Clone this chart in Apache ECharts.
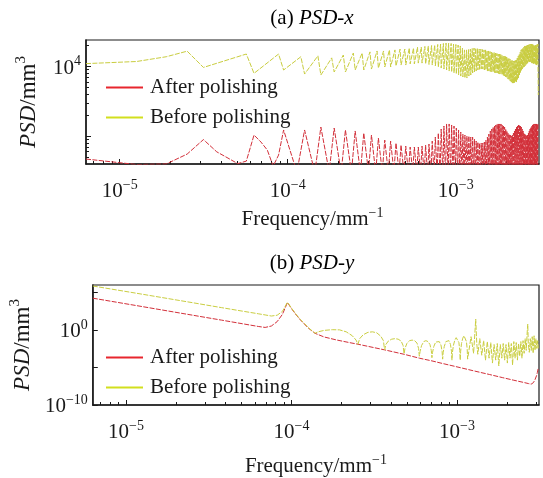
<!DOCTYPE html>
<html>
<head>
<meta charset="utf-8">
<script src="https://cdn.jsdelivr.net/npm/echarts@6/dist/echarts.min.js"></script>
<style>
  html, body { margin: 0; padding: 0; background: #fff; }
  #chart { width: 543px; height: 478px; }
</style>
</head>
<body>
<div id="chart"></div>
<script>
// Frequency resolution of the PSD estimate (mm^-1 per bin)
const df = 6.3e-6;

// Axis ranges and tick positions
const freqRange = [6.3e-6, 3.13e-3];
const freqMajor = [1e-5, 1e-4, 1e-3];
const freqMinor = [7e-6, 8e-6, 9e-6, 2e-5, 3e-5, 4e-5, 5e-5, 6e-5, 7e-5, 8e-5, 9e-5,
                   2e-4, 3e-4, 4e-4, 5e-4, 6e-4, 7e-4, 8e-4, 9e-4, 2e-3, 3e-3];
const psdXRange = [400, 24000];
const psdXMajor = [1e3, 1e4];
const psdXMinor = [500, 600, 700, 800, 900, 2000, 3000, 4000, 5000, 6000, 7000, 8000, 9000, 20000];
const psdXLabels = [1e4];
const psdYRange = [1e-10, 1e6];
const psdYMajor = [1e-10, 1e-5, 1, 1e5];
const psdYLabels = [1e-10, 1];

// (a) PSD-x : [frequency bin, PSD mm^3]
const psdXAfter = [
  [1,471],[2,393],[3,400],[4,555],[5,896],[6,598],[7,486],[8,405],[9,440],[10,1040],
  [11,826],[12,634],[13,373],[14,537],[15,1230],
  [18,306],[20,1230],[23,300],[25,1355],[28,310],[30,1310],[33,300],[35,1230],[38,305],[40,1190],
  [43,300],[45,1110],[48,310],[50,1040],[53,300],[55,942],[58,305],[60,881],[63,300],[65,853],
  [68,310],[70,798],[73,300],[75,748],[78,305],[80,723],[83,300],[85,700],[88,310],[90,700],
  [93,300],[95,700],[98,305],[100,723],
  [103,290],[105,748],[108,280],[110,773],[113,285],[115,853],[118,280],[120,973],[123,285],[125,1110],
  [128,280],[130,1270],[133,285],[135,1400],[138,280],[140,1500],[143,285],[145,1500],[148,280],[150,1450],
  [153,285],[155,1400],[158,280],[160,1310],[163,285],[165,1230],[168,280],[170,1150],[173,285],[175,1075],
  [178,280],[180,1040],[183,285],[185,1007],[188,280],[190,1007],[193,285],[195,973],[198,280],[200,973],
  [203,285],[205,912],[208,280],[210,853],[213,285],[215,826],[218,280],[220,798],[223,285],[225,798],
  [228,280],[230,798],[233,285],[235,826],[238,280],[240,881],[243,285],[245,973],[248,280],[250,1075],
  [253,285],[255,1190],[258,280],[260,1270],[263,285],[265,1355],[268,280],[270,1400],[273,285],[275,1450],
  [278,280],[280,1500],[283,285],[285,1500],[288,280],[290,1500],[293,285],[295,1500],[298,280],[300,1450],
  [303,285],[305,1400],[308,280],[310,1355],[313,285],[315,1270],[318,280],[320,1190],[323,285],[325,1110],
  [328,280],[330,1075],[333,285],[335,1040],[338,280],[340,1007],[343,285],[345,1040],[348,280],[350,1110],
  [353,285],[355,1190],[358,280],[360,1270],[363,285],[365,1355],[368,280],[370,1400],[373,285],[375,1450],
  [378,280],[380,1450],[383,285],[385,1400],[388,280],[390,1355],[393,285],[395,1270],[398,280],[400,1190],
  [403,285],[405,1110],[408,280],[410,1075],[413,285],[415,1040],[418,280],[420,1007],[423,285],[425,1040],
  [428,280],[430,1110],[433,285],[435,1190],[438,280],[440,1270],[443,285],[445,1355],[448,280],[450,1400],
  [453,285],[455,1450],[458,280],[460,1500],[463,285],[465,1500],[468,280],[470,1500],[473,285],[475,1500],
  [478,280],[480,1500],[483,285],[485,1500],[488,280],[490,1500],[492,1450]
];
const psdXBefore = [
  [1,11000],[2,11800],[3,13800],[4,16600],[5,9700],
  [9,15100],[10,7980],[14,15100],[15,8910],[19,13800],[20,7800],[24,14200],[25,7550],[29,13300],[30,8340],
  [34,14600],[35,8340],[39,15600],[40,8910],[44,15600],[45,8910],[49,16200],[50,9200],[54,16700],[55,9510],
  [59,16700],[60,9840],[64,17300],[65,9840],[69,17300],[70,10200],[74,17800],[75,10500],[79,17800],[80,10500],
  [84,18400],[85,10900],[89,18400],[90,10900],[94,19000],[95,11200],[99,19000],[100,11200],
  [104,19400],[105,10900],[109,19700],[110,10700],[114,20000],[115,10500],[119,20300],[120,10200],
  [124,20700],[125,9840],[129,21000],[130,9510],[134,21400],[135,9200],[139,21700],[140,8910],
  [144,21700],[145,8610],[149,21400],[150,8340],[154,21000],[155,8070],[159,20700],[160,7800],
  [164,20300],[165,7550],[169,19700],[170,7300],[174,18400],[175,7070],[179,17300],[180,6840],
  [184,17300],[185,6840],[189,17500],[190,7300],[194,17800],[195,7550],[199,18100],[200,8070],
  [204,18400],[205,8340],[209,18400],[210,8610],[214,18100],[215,8910],[219,17800],[220,8910],
  [224,17800],[225,9200],[229,17500],[230,9200],[234,17300],[235,8910],[239,17300],[240,8910],
  [244,17000],[245,8610],[249,16700],[250,8610],[254,16400],[255,8470],[259,16100],[260,8340],
  [264,16100],[265,8340],[269,15900],[270,8200],[274,15600],[275,8070],[279,15400],[280,8070],
  [284,15100],[285,7930],[289,15100],[290,7800],[294,14900],[295,7800],[299,14600],[300,7550],
  [304,14400],[305,7430],[309,14100],[310,7300],[314,13900],[315,7070],[319,13700],[320,6840],
  [324,13200],[325,6610],[329,13000],[330,6400],[334,12800],[335,6190],[339,12400],[340,5990],
  [344,12200],[345,5790],[349,12000],[350,5790],[354,12000],[355,5790],[359,12200],[360,5990],
  [364,12400],[365,5990],[369,13200],[370,6400],[374,14100],[375,6840],[379,15100],[380,7550],
  [384,16100],[385,8070],[389,17300],[390,8610],[394,17800],[395,9200],[399,18400],[400,9510],
  [404,19000],[405,9840],[409,19700],[410,10200],[414,19700],[415,10500],[419,20000],[420,10900],
  [424,20300],[425,11200],[429,20300],[430,11600],[434,20700],[435,11600],[439,20700],[440,11600],
  [444,21000],[445,11600],[449,21000],[450,11200],[454,20700],[455,11200],[459,20700],[460,10900],
  [464,20300],[465,10900],[469,20300],[470,10900],[474,20300],[475,10500],[479,20300],[480,10500],
  [484,20700],[485,10900],[489,21000],[490,11200],[492,3900]
];

// (b) PSD-y : [frequency bin, PSD mm^3]
const psdYAfter = [
  [1,1.75e4],[2,1.3e3],[4,95],[6,20.7],[8,6.9],[10,2.96],[11,2.2],[12,3.4],[13,13],[14,125],
  [15,4.6e3],[16,560],[17,93],[18,21],[19,6.3],[20,1.9],[22,0.364],[25,0.117],[30,0.0447],[35,0.0224],
  [40,0.0127],[58,2.24e-3],[76,5.8e-4],[94,1.75e-4],[112,7.6e-5],[130,3.4e-5],[148,1.75e-5],[166,9.6e-6],
  [184,5.6e-6],[200,3.6e-6],[250,1.15e-6],[300,4.4e-7],[350,2.0e-7],[400,1.04e-7],[430,7.1e-8],[445,5.9e-8],
  [460,9.8e-8],[470,2.4e-7],[480,8.0e-7],[486,2.3e-6],[492,8.8e-6]
];
const psdYBefore = [
  [1,7.4e5],[2,5.8e4],[4,4.4e3],[6,960],[8,330],[10,146],[11,102],[12,73],[13,93],[14,308],
  [15,5.0e3],[16,650],[17,108],[18,24],[19,7.3],[20,2.2],[22,0.364],
  [23,0.57],[25,0.89],[28,1.1],[31,1.04],[34,0.57],[37,0.17],[39,0.0447],[40,0.0127],
  [41,0.070],[43,0.23],[46,0.49],[49,0.57],[52,0.42],[55,0.148],[57,0.038],[58,2.24e-3],
  [59,0.0116],[61,0.033],[64,0.060],[67,0.070],[70,0.060],[73,0.033],[75,0.0086],[76,6.7e-4],
  [77,0.0035],[79,0.0157],[82,0.038],[85,0.0447],[88,0.038],[91,0.018],[93,0.0035],[94,3.2e-4],
  [95,1.43e-3],[97,0.0086],[100,0.0285],[103,0.038],[106,0.0285],[109,0.0116],[111,0.0019],[112,2.04e-4],
  [113,1.06e-3],[115,0.0064],[118,0.0245],[121,0.038],[124,0.0285],[127,0.01],[129,1.43e-3],[130,1.3e-4],
  [131,1.06e-3],[133,0.0064],[136,0.0285],[139,0.052],[142,0.038],[145,0.0116],[147,1.43e-3],[148,9.6e-5],
  [149,1.06e-3],[151,0.0086],[154,0.0447],[157,0.095],[160,0.070],[163,0.0211],[165,0.0019],[166,9.6e-5],
  [167,1.43e-3],[169,0.0157],[172,0.081],[175,0.17],[178,0.11],[181,0.0285],[183,0.0026],[184,1.3e-4],
  [193,0.128],[200,7.8e-4],[206,28],[209,0.0157],[212,5.8e-4],[218,0.070],[224,4.3e-4],[230,0.038],
  [236,9.6e-5],[242,0.0285],[248,1.75e-4],[254,0.0211],[260,3.9e-5],[266,0.0116],[272,9.6e-5],[278,0.0157],
  [284,1.6e-5],[290,0.0116],[296,1.75e-4],[302,0.0157],[308,9.6e-5],[314,0.0116],[320,3.9e-5],[326,0.0211],
  [332,1.75e-4],[338,0.0157],[344,2.15e-5],[350,0.0285],[356,1.75e-4],[362,0.0211],[368,9.6e-5],[374,0.0157],
  [380,3.2e-4],[386,0.0285],[392,1.75e-4],[398,0.038],[404,7.8e-4],[410,0.070],[416,0.0019],[422,0.77],
  [425,6.3],[428,0.0157],[434,1.06e-3],[440,0.070],[446,0.0019],[452,0.128],[458,7.8e-4],[464,0.17],
  [470,0.0019],[476,0.070],[482,0.0035],[488,0.038],[492,0.0035]
];

const SERIF = '"Liberation Serif", "Times New Roman", serif';
const INK = '#1a1a1a';
const RED_LINE = '#d2303a';
const YEL_LINE = '#c9cd40';
const RED_KEY = '#e8262e';
const YEL_KEY = '#d2df1e';

const toPoints = rows => rows.map(([bin, psd]) => [bin * df, psd]);

function powLabel(v) {
  const n = Math.round(Math.log10(v));
  const exp = n < 0 ? '\u2212' + (-n) : String(n);
  return '{b|10}{s|' + exp + '}';
}
const richText = {
  b: { fontFamily: SERIF, fontSize: 21, lineHeight: 24, verticalAlign: 'bottom', color: INK },
  n: { fontFamily: SERIF, fontSize: 21, lineHeight: 24, verticalAlign: 'bottom', color: INK },
  s: { fontFamily: SERIF, fontSize: 14, lineHeight: 15, verticalAlign: 'top', color: INK }
};
const richName = {
  n: { fontFamily: SERIF, fontSize: 23, lineHeight: 26, verticalAlign: 'bottom', color: INK },
  i: { fontFamily: SERIF, fontSize: 23, lineHeight: 26, verticalAlign: 'bottom', fontStyle: 'italic', color: INK },
  s: { fontFamily: SERIF, fontSize: 15, lineHeight: 16, verticalAlign: 'top', color: INK }
};

function freqAxis(gridIndex, main, nameGap) {
  return {
    type: 'log', gridIndex, position: 'bottom',
    min: freqRange[0], max: freqRange[1],
    axisLine: { show: main, lineStyle: { color: INK, width: 1.5 } },
    axisTick: { show: true, inside: true, length: main ? 5 : 3,
                lineStyle: { color: INK, width: 1 },
                customValues: main ? freqMajor : freqMinor },
    axisLabel: { show: main, customValues: freqMajor, formatter: powLabel,
                 rich: richText, margin: 14 },
    splitLine: { show: false },
    name: main ? '{n|Frequency/mm}{s|\u22121}' : '',
    nameLocation: 'middle', nameGap: nameGap,
    nameTextStyle: { rich: richText }
  };
}

function psdAxis(gridIndex, range, ticks, labels, tickLen, withName) {
  return {
    type: 'log', gridIndex, position: 'left',
    min: range[0], max: range[1],
    axisLine: { show: withName, lineStyle: { color: INK, width: 1.5 } },
    axisTick: { show: true, inside: true, length: tickLen,
                lineStyle: { color: INK, width: 1 }, customValues: ticks },
    axisLabel: { show: withName, customValues: labels, formatter: powLabel,
                 rich: richText, margin: 5 },
    splitLine: { show: false },
    name: withName ? '{i|PSD}{n|/mm}{s|3}' : '',
    nameLocation: 'middle', nameGap: 46,
    nameTextStyle: { rich: richName }
  };
}

function lineSeries(name, rows, xi, yi, color) {
  return {
    name, type: 'line', xAxisIndex: xi, yAxisIndex: yi,
    data: toPoints(rows), symbol: 'none', showSymbol: false,
    clip: true, silent: true, animation: false,
    lineStyle: { color, width: 1, type: [5, 1.4] },
    itemStyle: { color }
  };
}

function legendAt(top) {
  return {
    orient: 'vertical', left: 106, top, padding: 0,
    itemWidth: 37, itemHeight: 2, itemGap: 9,
    selectedMode: false, icon: 'rect',
    textStyle: { fontFamily: SERIF, fontSize: 21, lineHeight: 21, color: INK, padding: [0, 0, 0, 2] },
    data: [
      { name: 'After polishing', itemStyle: { color: RED_KEY } },
      { name: 'Before polishing', itemStyle: { color: YEL_KEY } }
    ]
  };
}

const titleRich = {
  n: { fontFamily: SERIF, fontSize: 21, color: INK },
  i: { fontFamily: SERIF, fontSize: 21, fontStyle: 'italic', color: INK }
};

const chart = echarts.init(document.getElementById('chart'), null, { renderer: 'canvas' });
chart.setOption({
  backgroundColor: '#fff',
  animation: false,
  graphic: [
    { type: 'text', x: 312, y: 18, style: { text: '{n|(a) }{i|PSD-x}', rich: titleRich, align: 'center', verticalAlign: 'middle' } },
    { type: 'text', x: 312, y: 263, style: { text: '{n|(b) }{i|PSD-y}', rich: titleRich, align: 'center', verticalAlign: 'middle' } }
  ],
  grid: [
    { left: 86, top: 40, width: 453, height: 124, show: true, borderColor: INK, borderWidth: 1.2, backgroundColor: 'transparent' },
    { left: 86, top: 285, width: 453, height: 123, show: true, borderColor: INK, borderWidth: 1.2, backgroundColor: 'transparent' }
  ],
  legend: [legendAt(77), legendAt(347)],
  xAxis: [
    freqAxis(0, true, 42), freqAxis(0, false, 0),
    freqAxis(1, true, 48), freqAxis(1, false, 0)
  ],
  yAxis: [
    psdAxis(0, psdXRange, psdXMajor, psdXLabels, 5, true),
    psdAxis(0, psdXRange, psdXMinor, psdXLabels, 3, false),
    psdAxis(1, psdYRange, psdYMajor, psdYLabels, 5, true)
  ],
  series: [
    lineSeries('After polishing', psdXAfter, 0, 0, RED_LINE),
    lineSeries('Before polishing', psdXBefore, 0, 0, YEL_LINE),
    lineSeries('After polishing', psdYAfter, 2, 2, RED_LINE),
    lineSeries('Before polishing', psdYBefore, 2, 2, YEL_LINE)
  ]
});
</script>
</body>
</html>
